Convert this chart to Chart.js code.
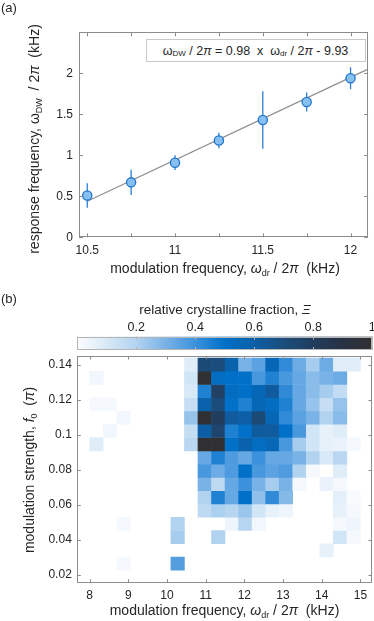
<!DOCTYPE html>
<html>
<head>
<meta charset="UTF-8">
<title>Response frequency and crystalline fraction</title>
<script src="https://cdn.jsdelivr.net/npm/chart.js@4.4.0/dist/chart.umd.min.js"></script>
<style>
    body { margin: 0; background: #fff; }
    #wrap { position: relative; width: 374px; height: 621px; overflow: hidden;
            font-family: "Liberation Sans", Arial, sans-serif; color: #262626; }
    canvas { position: absolute; left: 0; }
    .lbl { position: absolute; white-space: nowrap; font-size: 14px; line-height: 1; }
    .c { transform: translate(-50%, -50%); }
    .rot { transform: translate(-50%, -50%) rotate(-90deg); }
    .sub { font-size: 9px; position: relative; top: 3px; }
    #fitbox { position: absolute; left: 145.5px; top: 39px; width: 220px; height: 23px;
              box-sizing: border-box; border: 1px solid #c8c8c8; background: #fff;
              display: flex; align-items: center; justify-content: center;
              font-size: 12.5px; white-space: nowrap; }
    #fitbox .sub { font-size: 8px; top: 2.5px; }
</style>
</head>
<body>
<div id="wrap">
    <canvas id="chartA" width="374" height="290" style="top:0"></canvas>
    <canvas id="chartBar" width="374" height="55" style="top:300px"></canvas>
    <canvas id="chartB" width="374" height="271" style="top:350px"></canvas>

    <div class="lbl" style="left:1px;top:1px;font-size:13px">(a)</div>
    <div class="lbl" style="left:1px;top:292px;font-size:13px">(b)</div>
    <div id="fitbox">ω<span class="sub">DW</span>&nbsp;/ 2<i>π</i>&nbsp;= 0.98 &nbsp;x&nbsp; ω<span class="sub">dr</span>&nbsp;/ 2<i>π</i>&nbsp;- 9.93</div>
    <div class="lbl c" style="left:225px;top:267.5px">modulation frequency, <i>ω</i><span class="sub">dr</span>&nbsp;/ 2<i>π</i>&nbsp; (kHz)</div>
    <div class="lbl rot" style="left:34px;top:139px">response frequency, ω<span class="sub">DW</span>&nbsp; / 2<i>π</i>&nbsp; (kHz)</div>
    <div class="lbl c" style="left:225px;top:310px;font-size:13.5px">relative crystalline fraction, <i>Ξ</i></div>
    <div class="lbl rot" style="left:29px;top:470px">modulation strength, <i>f</i><span class="sub">0</span>&nbsp; (<i>π</i>)</div>
    <div class="lbl c" style="left:224.5px;top:610px">modulation frequency, <i>ω</i><span class="sub">dr</span>&nbsp;/ 2<i>π</i>&nbsp; (kHz)</div>
</div>

<script>
    // (a) response of the domain wall vs drive frequency
    const driveFreq = [10.5, 10.75, 11, 11.25, 11.5, 11.75, 12];
    const responseFreq = [0.51, 0.67, 0.91, 1.18, 1.43, 1.65, 1.94];
    const responseErr = [0.15, 0.155, 0.09, 0.095, 0.35, 0.115, 0.135];
    const fitFreq = [10.5, 12.1];
    const fitResponse = [0.44, 2.05];

    // (b) crystalline fraction map, columns = modulation frequency, rows = f0 (top row first)
    const modFreq = [8.175, 8.525, 8.875, 9.225, 9.575, 9.925, 10.275, 10.625, 10.975, 11.325,
                     11.675, 12.025, 12.375, 12.725, 13.075, 13.425, 13.775, 14.125, 14.475, 14.825];
    const modStrength = [0.1400, 0.1324, 0.1249, 0.1173, 0.1097, 0.1022, 0.0946, 0.0870, 0.0794,
                         0.0719, 0.0643, 0.0567, 0.0492, 0.0416, 0.0340, 0.0265, 0.0189];
    const crystalFraction = [
        [0, 0, 0, 0, 0, 0, 0, 0.08, 0.72, 0.70, 0.58, 0.30, 0.35, 0.55, 0.42, 0.32, 0.22, 0.32, 0.08, 0.08],
        [0.03, 0, 0, 0, 0, 0, 0, 0.12, 1.00, 0.52, 0.50, 0.50, 0.38, 0.45, 0.38, 0.33, 0.27, 0.30, 0.32, 0],
        [0, 0, 0, 0, 0, 0, 0, 0.10, 0.45, 0.78, 0.52, 0.50, 0.55, 0.62, 0.42, 0.33, 0.27, 0.22, 0.16, 0],
        [0.02, 0.02, 0, 0, 0, 0, 0, 0.15, 0.58, 0.70, 0.50, 0.45, 0.55, 0.52, 0.45, 0.33, 0.25, 0.15, 0.25, 0],
        [0, 0, 0.03, 0, 0, 0, 0, 0.25, 1.00, 0.80, 0.62, 0.60, 0.72, 0.55, 0.42, 0.35, 0.30, 0.20, 0.27, 0],
        [0, 0.03, 0, 0, 0, 0, 0, 0.15, 0.60, 0.75, 0.45, 0.50, 0.62, 0.62, 0.50, 0.38, 0.12, 0.06, 0.08, 0],
        [0.08, 0, 0, 0, 0, 0, 0, 0.18, 1.00, 1.00, 0.50, 0.58, 0.52, 0.55, 0.38, 0.22, 0.12, 0.06, 0.05, 0.02],
        [0, 0, 0, 0, 0, 0, 0, 0, 0.33, 0.45, 0.37, 0.33, 0.40, 0.33, 0.33, 0.30, 0.20, 0.10, 0.18, 0],
        [0, 0, 0, 0, 0, 0, 0, 0, 0.38, 0.32, 0.37, 0.50, 0.38, 0.35, 0.37, 0.20, 0.02, 0, 0.08, 0],
        [0, 0, 0, 0, 0, 0, 0, 0, 0.30, 0.17, 0.33, 0.40, 0.30, 0.22, 0.30, 0.02, 0, 0.05, 0.02, 0],
        [0, 0, 0, 0, 0, 0, 0, 0, 0.20, 0.45, 0.33, 0.50, 0.26, 0.42, 0.28, 0, 0, 0, 0.07, 0.01],
        [0, 0, 0, 0, 0, 0, 0, 0, 0.17, 0.21, 0.19, 0.24, 0.12, 0.06, 0.04, 0, 0, 0, 0.06, 0.02],
        [0, 0, 0.02, 0, 0, 0, 0.20, 0, 0, 0, 0.04, 0.19, 0.03, 0, 0, 0, 0, 0, 0.02, 0.04],
        [0, 0, 0, 0, 0, 0, 0.22, 0, 0, 0.20, 0, 0, 0, 0, 0, 0, 0, 0, 0.12, 0.02],
        [0, 0, 0, 0, 0, 0, 0, 0, 0, 0, 0, 0, 0, 0, 0, 0, 0, 0.06, 0, 0],
        [0, 0, 0.02, 0, 0, 0, 0.36, 0, 0, 0, 0, 0, 0, 0, 0, 0, 0, 0, 0, 0],
        [0, 0, 0, 0, 0, 0, 0, 0, 0, 0, 0, 0, 0, 0, 0, 0, 0, 0, 0, 0]
    ];

    // colormap (white -> blue -> near black)
    const cmapPos = [0, 0.1, 0.2, 0.3, 0.4, 0.5, 0.6, 0.7, 0.8, 0.9, 1];
    const cmapRGB = [[252, 253, 255], [216, 233, 247], [178, 211, 240], [120, 178, 230], [60, 145, 220],
                     [0, 112, 200], [12, 95, 166], [26, 77, 124], [33, 61, 94], [40, 49, 67], [48, 48, 50]];

    function cmap(v) {
        v = Math.max(0, Math.min(1, v));
        let i = 1;
        while (i < cmapPos.length - 1 && v > cmapPos[i]) i++;
        const t = (v - cmapPos[i - 1]) / (cmapPos[i] - cmapPos[i - 1]);
        const a = cmapRGB[i - 1], b = cmapRGB[i];
        return 'rgb(' + a.map((c, k) => Math.round(c + (b[k] - c) * t)).join(',') + ')';
    }

    Chart.defaults.font.family = '"Liberation Sans", Arial, sans-serif';
    Chart.defaults.font.size = 12;
    Chart.defaults.color = '#262626';

    // box round the axes with inward ticks, like matlab
    const matlabBox = {
        id: 'matlabBox',
        afterDatasetsDraw(chart, args, opts) {
            const {ctx, chartArea: a, scales} = chart;
            const len = opts.tickLength || 4;
            ctx.save();
            ctx.strokeStyle = opts.color || '#8c8c8c';
            ctx.lineWidth = 1;
            ctx.beginPath();
            scales.x.ticks.forEach(t => {
                const px = Math.round(scales.x.getPixelForValue(t.value)) + 0.5;
                ctx.moveTo(px, a.bottom); ctx.lineTo(px, a.bottom - len);
                ctx.moveTo(px, a.top); ctx.lineTo(px, a.top + len);
            });
            if (scales.y.options.display) {
                scales.y.ticks.forEach(t => {
                    const py = Math.round(scales.y.getPixelForValue(t.value)) + 0.5;
                    ctx.moveTo(a.left, py); ctx.lineTo(a.left + len, py);
                    ctx.moveTo(a.right, py); ctx.lineTo(a.right - len, py);
                });
            }
            ctx.stroke();
            ctx.strokeRect(Math.round(a.left) + 0.5, Math.round(a.top) + 0.5,
                           Math.round(a.right) - Math.round(a.left) - 1, Math.round(a.bottom) - Math.round(a.top) - 1);
            ctx.restore();
        }
    };

    // fill the colorbar with the colormap
    const colorbarFill = {
        id: 'colorbarFill',
        beforeDatasetsDraw(chart) {
            const {ctx, chartArea: a, scales} = chart;
            const g = ctx.createLinearGradient(scales.x.getPixelForValue(0), 0, scales.x.getPixelForValue(1), 0);
            cmapPos.forEach((p, i) => g.addColorStop(p, 'rgb(' + cmapRGB[i].join(',') + ')'));
            ctx.save();
            ctx.fillStyle = g;
            ctx.fillRect(a.left, a.top, a.width, a.height);
            ctx.restore();
        }
    };

    function noPad(s) { s.paddingLeft = 0; s.paddingRight = 0; s.paddingTop = 0; s.paddingBottom = 0; }

    // ---------- (a)
    new Chart(document.getElementById('chartA'), {
        type: 'scatter',
        data: {
            datasets: [{
                type: 'scatter',
                data: driveFreq.map((x, i) => ({x: x, y: responseFreq[i]})),
                backgroundColor: '#86bff2',
                borderColor: '#1f74cc',
                borderWidth: 1.3,
                pointRadius: 4.6,
                order: 0
            }, {
                type: 'bar',
                data: driveFreq.map((x, i) => ({x: x, y: [responseFreq[i] - responseErr[i], responseFreq[i] + responseErr[i]]})),
                backgroundColor: '#2a7fd4',
                barThickness: 1.3,
                inflateAmount: 0,
                order: 1
            }, {
                type: 'line',
                data: fitFreq.map((x, i) => ({x: x, y: fitResponse[i]})),
                borderColor: '#8f8f8f',
                borderWidth: 1.3,
                pointRadius: 0,
                fill: false,
                order: 2
            }]
        },
        options: {
            responsive: false,
            animation: false,
            layout: {padding: {left: 0, top: 32.3, right: 2.3, bottom: 0}},
            plugins: {legend: {display: false}, tooltip: {enabled: false}, matlabBox: {tickLength: 4}},
            scales: {
                x: {
                    type: 'linear', min: 10.453, max: 12.1, offset: false,
                    grid: {display: false, drawTicks: false}, border: {display: false},
                    ticks: {
                        stepSize: 0.25, includeBounds: false, autoSkip: false, maxRotation: 0, padding: 6,
                        callback: v => Math.abs(v * 2 - Math.round(v * 2)) < 1e-6 ? String(+v.toFixed(2)) : ''
                    },
                    afterFit: s => { s.height = 52.7; noPad(s); }
                },
                y: {
                    min: 0, max: 2.5,
                    grid: {display: false, drawTicks: false}, border: {display: false},
                    ticks: {stepSize: 0.5, padding: 6, callback: v => v > 2.4 ? '' : String(+v.toFixed(2))},
                    afterFit: s => { s.width = 79; noPad(s); }
                }
            }
        },
        plugins: [matlabBox]
    });

    // ---------- colorbar
    new Chart(document.getElementById('chartBar'), {
        type: 'scatter',
        data: {datasets: []},
        options: {
            responsive: false,
            animation: false,
            layout: {padding: {left: 77.3, top: 0, right: 1.7, bottom: 5}},
            plugins: {legend: {display: false}, tooltip: {enabled: false}, matlabBox: {tickLength: 3, color: '#b4b4b4'}},
            scales: {
                x: {
                    type: 'linear', position: 'top', min: 0, max: 1,
                    grid: {display: false, drawTicks: false}, border: {display: false},
                    ticks: {stepSize: 0.2, includeBounds: false, maxRotation: 0, autoSkip: false, padding: 2,
                            font: {size: 12.5},
                            callback: v => v < 0.01 ? '' : String(+v.toFixed(1))},
                    afterFit: s => { s.height = 36.7; noPad(s); }
                },
                y: {display: false, min: 0, max: 1}
            }
        },
        plugins: [colorbarFill, matlabBox]
    });

    // ---------- (b) heatmap, one floating-bar dataset per f0 row
    const rowEdges = modStrength.map((f, r) => {
        const up = r > 0 ? (modStrength[r - 1] + f) / 2 : f + (f - modStrength[r + 1]) / 2;
        const dn = r < modStrength.length - 1 ? (modStrength[r + 1] + f) / 2 : f - (modStrength[r - 1] - f) / 2;
        return [dn, up];
    });
    const heatSets = crystalFraction.map((row, r) => {
        const cells = [], colors = [];
        row.forEach((v, c) => {
            if (v > 0) {
                cells.push({x: modFreq[c], y: rowEdges[r]});
                colors.push(cmap(v));
            }
        });
        return {data: cells, backgroundColor: colors, borderWidth: 0, inflateAmount: 0.3,
                grouped: false, barPercentage: 1, categoryPercentage: 1};
    });

    new Chart(document.getElementById('chartB'), {
        type: 'bar',
        data: {datasets: heatSets},
        options: {
            responsive: false,
            animation: false,
            layout: {padding: {left: 0, top: 6, right: 2, bottom: 0}},
            plugins: {legend: {display: false}, tooltip: {enabled: false}, matlabBox: {tickLength: 3.5}},
            scales: {
                x: {
                    type: 'linear', min: 7.68, max: 15.3, offset: false,
                    grid: {display: false, drawTicks: false}, border: {display: false},
                    ticks: {stepSize: 1, includeBounds: false, autoSkip: false, maxRotation: 0, padding: 6},
                    afterFit: s => { s.height = 38.3; noPad(s); }
                },
                y: {
                    min: 0.0156, max: 0.1449, beginAtZero: false,
                    grid: {display: false, drawTicks: false}, border: {display: false},
                    ticks: {stepSize: 0.02, includeBounds: false, padding: 5.5,
                            callback: v => String(+v.toFixed(2))},
                    afterFit: s => { s.width = 77.3; noPad(s); }
                }
            }
        },
        plugins: [matlabBox]
    });
</script>
</body>
</html>
